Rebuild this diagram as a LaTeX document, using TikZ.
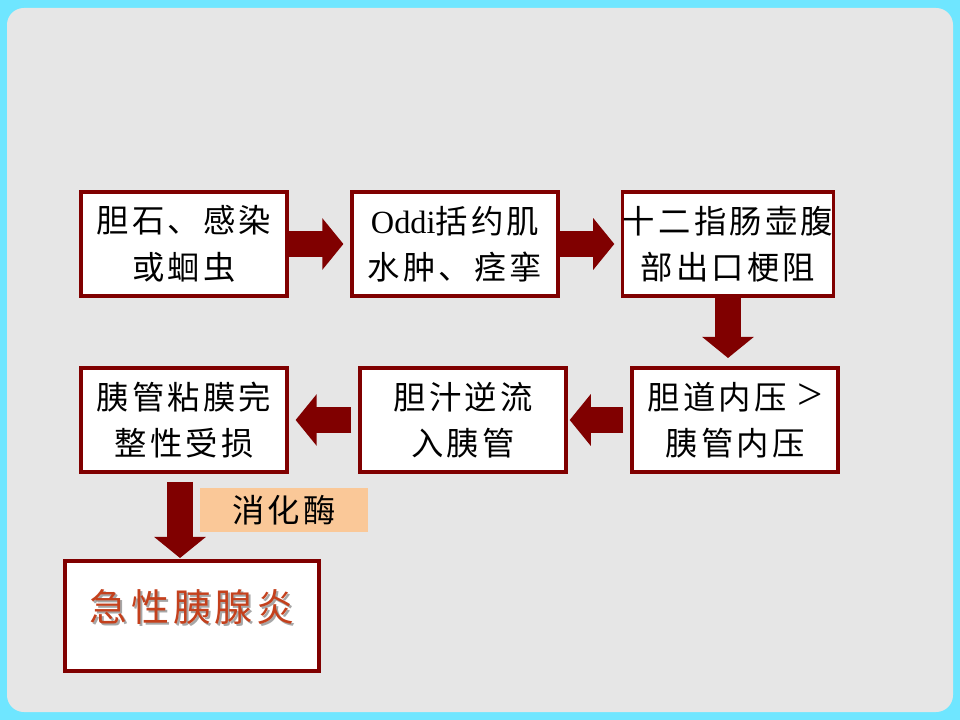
\documentclass[tikz,border=0pt]{standalone}
\usepackage{fontspec}
\newfontfamily\cjk[LetterSpace=10]{Noto Sans CJK SC}
\newfontfamily\latin{Liberation Serif}
\usetikzlibrary{arrows.meta}
\definecolor{frame}{HTML}{6FE6FF}
\definecolor{slide}{HTML}{E6E6E6}
\definecolor{maroon}{HTML}{800000}
\definecolor{peach}{HTML}{FAC898}
\definecolor{rust}{HTML}{C4401C}

\begin{document}
\begin{tikzpicture}[x=0.025cm,y=-0.025cm,
    font=\cjk\fontsize{23}{33}\selectfont,
    box/.style={draw=maroon,line width=2.2pt,fill=white,inner sep=0pt,align=center,
        minimum width=5.15cm,minimum height=2.6cm},
    flow/.style={maroon,line width=18.5pt,-{Triangle[width=36pt,length=15pt]}}]
    % slide background
    \fill[frame] (0,0) rectangle (960,720);
    \fill[slide,rounded corners=12] (7,8) rectangle (953,712);
            \node[box](Stone)at(184, 244){胆石、感染\\或蛔虫};
            \node[box](Oddi)at(455, 244){{\latin Oddi}括约肌\\水肿、痉挛};
            \node[box](Ampulla)at(728, 244){十二指肠壶腹\\部出口梗阻};
            \node[box](Pressure)at(735, 420){胆道内压 {\latin\fontsize{32}{32}\selectfont >}\\胰管内压};
            \node[box](Reflux)at(463, 420){胆汁逆流\\入胰管};
            \node[box](Mucosa)at(184, 420){胰管粘膜完\\整性受损};
            \node[box,minimum width=6.35cm,minimum height=2.75cm](Acute)at(192, 616){};
            \node[text=gray!70](Shadow)at(194, 609){\fontsize{27}{30}\selectfont 急性胰腺炎};
            \node[text=rust](Result)at(192, 607){\fontsize{27}{30}\selectfont 急性胰腺炎};
            \node[fill=peach,minimum width=4.2cm,minimum height=1.1cm](Enzyme)at(284, 510){消化酶};
            \path[flow](Stone) edge[shorten >=5pt] (Oddi)
            (Oddi) edge[shorten >=5pt] (Ampulla)
            (Ampulla.south) edge[shorten >=6pt] (Ampulla.south |- Pressure.north)
            (Pressure) edge[shorten <=5pt,shorten >=1.5pt] (Reflux)
            (Reflux) edge[shorten <=5pt,shorten >=5pt] (Mucosa)
            ([xshift=-4*0.025cm]Mucosa.south) edge[shorten <=6pt,shorten >=1pt] ([xshift=-4*0.025cm]Mucosa.south |- Acute.north);
        \end{tikzpicture}
\end{document}
